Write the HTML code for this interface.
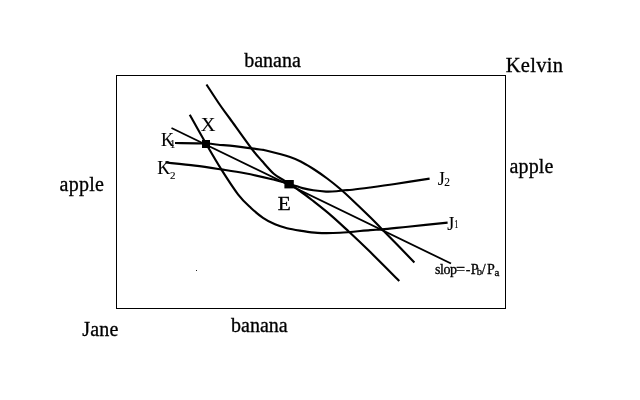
<!DOCTYPE html>
<html><head><meta charset="utf-8"><title>Edgeworth box</title>
<style>
html,body{margin:0;padding:0;background:#fff;}
body{width:640px;height:400px;overflow:hidden;}
svg{display:block;will-change:transform;}
text{font-family:"Liberation Serif","Times New Roman",serif;fill:#000;stroke:#000;stroke-width:0.3px;}
.c{fill:none;stroke:#000;stroke-width:2.15;stroke-linecap:butt;}
</style></head><body>
<svg width="640" height="400" viewBox="0 0 640 400">
<rect x="0" y="0" width="640" height="400" fill="#fff"/>
<rect x="116.5" y="75.5" width="389" height="233" fill="none" stroke="#000" stroke-width="1"/>
<path class="c" d="M206.50,84.50 C208.75,87.92 216.08,99.29 220.00,105.00 C223.92,110.71 224.75,111.50 230.00,118.75 C235.25,126.00 246.17,141.46 251.50,148.50 C256.83,155.54 258.29,156.79 262.00,161.00 C265.71,165.21 270.08,170.50 273.75,173.75 C277.42,177.00 281.46,178.79 284.00,180.50 C286.54,182.21 287.00,183.08 289.00,184.00 C291.00,184.92 293.75,185.32 296.00,186.00 C298.25,186.68 299.62,187.38 302.50,188.10 C305.38,188.82 309.33,189.72 313.25,190.30 C317.17,190.88 322.12,191.43 326.00,191.60 C329.88,191.77 333.50,191.52 336.50,191.30 C339.50,191.08 341.33,190.57 344.00,190.30 C346.67,190.03 348.17,190.17 352.50,189.70 C356.83,189.23 362.92,188.45 370.00,187.50 C377.08,186.55 385.07,185.48 395.00,184.00 C404.93,182.52 423.83,179.50 429.60,178.60"/>
<path class="c" d="M189.75,114.75 C192.54,119.71 201.24,135.39 206.50,144.50 C211.76,153.61 216.05,161.10 221.30,169.40 C226.55,177.70 233.05,187.87 238.00,194.30 C242.95,200.73 246.83,204.08 251.00,208.00 C255.17,211.92 259.00,215.08 263.00,217.80 C267.00,220.52 271.00,222.57 275.00,224.30 C279.00,226.03 282.83,227.15 287.00,228.20 C291.17,229.25 294.92,229.82 300.00,230.60 C305.08,231.38 310.83,232.54 317.50,232.90 C324.17,233.26 331.25,233.22 340.00,232.75 C348.75,232.28 363.00,230.66 370.00,230.10 C377.00,229.54 375.67,229.97 382.00,229.40 C388.33,228.83 397.07,227.83 408.00,226.70 C418.93,225.57 441.00,223.28 447.60,222.60"/>
<path class="c" d="M175.00,143.00 C180.17,143.08 198.50,143.17 206.00,143.50 C213.50,143.83 216.00,144.65 220.00,145.00 C224.00,145.35 223.33,144.85 230.00,145.60 C236.67,146.35 254.00,148.68 260.00,149.50 C266.00,150.32 261.00,149.25 266.00,150.50 C271.00,151.75 283.92,155.00 290.00,157.00 C296.08,159.00 298.33,160.33 302.50,162.50 C306.67,164.67 310.83,167.29 315.00,170.00 C319.17,172.71 323.33,175.62 327.50,178.75 C331.67,181.88 335.92,185.26 340.00,188.75 C344.08,192.24 347.00,194.99 352.00,199.70 C357.00,204.41 365.08,212.17 370.00,217.00 C374.92,221.83 374.10,221.13 381.50,228.70 C388.90,236.27 408.92,256.78 414.40,262.40"/>
<path class="c" d="M165.50,162.50 C170.42,163.02 185.71,164.45 195.00,165.60 C204.29,166.75 212.92,168.12 221.25,169.40 C229.58,170.68 236.54,171.67 245.00,173.30 C253.46,174.93 264.67,177.42 272.00,179.20 C279.33,180.98 284.33,182.03 289.00,184.00 C293.67,185.97 296.18,188.33 300.00,191.00 C303.82,193.67 306.69,195.90 311.90,200.00 C317.11,204.10 325.11,210.33 331.25,215.60 C337.39,220.87 342.50,225.77 348.75,231.60 C355.00,237.43 360.32,242.37 368.75,250.60 C377.18,258.83 394.21,275.93 399.30,281.00"/>
<path class="c" style="stroke-width:1.8" d="M171.5,128 L451,263.5"/>
<rect x="202" y="140" width="8" height="8" fill="#000"/>
<rect x="284.4" y="180" width="9.4" height="8.4" fill="#000"/>
<rect x="196" y="270" width="1" height="1" fill="#222"/>
<text x="244.2" y="66.5" font-size="20">banana</text>
<text x="505.7" y="71.9" font-size="20.5" letter-spacing="0.3">Kelvin</text>
<text x="59.5" y="191.4" font-size="20" letter-spacing="0.25">apple</text>
<text x="509.4" y="173.3" font-size="20" letter-spacing="0.2">apple</text>
<text x="82.2" y="335.6" font-size="20" letter-spacing="0.25">Jane</text>
<text x="231" y="331.8" font-size="20">banana</text>
<text transform="translate(200.8,130.8) scale(1.02,0.985)" font-size="20" style="stroke-width:0.1px">X</text>
<text transform="translate(277.8,209.7) scale(1.07,0.975)" font-size="20">E</text>
<text x="161" y="146" font-size="18" style="stroke-width:0.12px">K<tspan font-size="11.5" dx="-4.2" dy="2.3">1</tspan></text>
<text x="157.2" y="173.8" font-size="18" style="stroke-width:0.12px">K<tspan font-size="11" dx="-0.3" dy="5">2</tspan></text>
<text x="437.8" y="185.4" font-size="18" style="stroke-width:0.1px">J<tspan font-size="11.5" dx="-0.5" dy="0.3">2</tspan></text>
<text x="447.3" y="229.5" font-size="18" style="stroke-width:0.1px">J</text>
<text transform="translate(454.2,227.9) scale(0.72,1)" font-size="11.7" style="stroke-width:0.1px">1</text>
<g font-size="14" style="stroke-width:0.15px">
<text x="435" y="273.7" letter-spacing="-0.45">slop</text>
<text transform="translate(455.9,273.7) scale(1.15,1)">=</text>
<text x="465.7" y="273.7">-</text>
<text x="470.8" y="273.7">P</text>
<text x="476.8" y="274.5" font-size="10.5">b</text>
<text x="481.8" y="273.7">/</text>
<text x="487" y="273.7">P</text>
<text x="494.6" y="275.6" font-size="11">a</text>
</g>
</svg>
</body></html>
